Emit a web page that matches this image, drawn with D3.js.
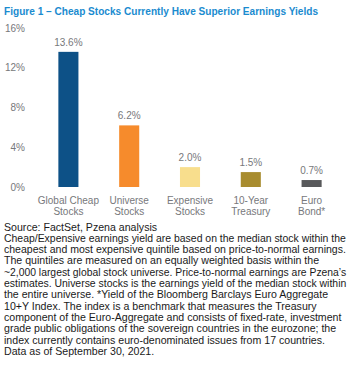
<!DOCTYPE html>
<html><head><meta charset="utf-8">
<script src="https://cdn.jsdelivr.net/npm/d3@7"></script>
<style>
html,body{margin:0;padding:0;background:#fff;}
svg{display:block;}
</style></head>
<body>
<script>
const categories = [["Global Cheap","Stocks"],["Universe","Stocks"],["Expensive","Stocks"],["10-Year","Treasury"],["Euro","Bond*"]];
const values = [13.6, 6.2, 2.0, 1.5, 0.7];
const colors = ["#0d5187","#f68b2c","#f8de8d","#a88c2f","#58595b"];
const yTicks = [0, 4, 8, 12, 16];
const title = "Figure 1 \u2013 Cheap Stocks Currently Have Superior Earnings Yields";
const source = "Source: FactSet, Pzena analysis";
const notes = [
"Cheap/Expensive earnings yield are based on the median stock within the",
"cheapest and most expensive quintile based on price-to-normal earnings.",
"The quintiles are measured on an equally weighted basis within the",
"~2,000 largest global stock universe. Price-to-normal earnings are Pzena\u2019s",
"estimates. Universe stocks is the earnings yield of the median stock within",
"the entire universe. *Yield of the Bloomberg Barclays Euro Aggregate",
"10+Y Index. The index is a benchmark that measures the Treasury",
"component of the Euro-Aggregate and consists of fixed-rate, investment",
"grade public obligations of the sovereign countries in the eurozone; the",
"index currently contains euro-denominated issues from 17 countries.",
"Data as of September 30, 2021."
];

const W = 352, H = 368;
const svg = d3.select("body").append("svg").attr("width", W).attr("height", H);
const font = "'Liberation Sans', Arial, Helvetica, sans-serif";

svg.append("text").attr("x", 4).attr("y", 15)
  .attr("font-family", font).attr("font-weight", "bold").attr("font-size", 11.2)
  .attr("fill", "#1a8bcf").attr("textLength", 314).attr("lengthAdjust", "spacingAndGlyphs")
  .text(title);

const y = d3.scaleLinear().domain([0, 16]).range([187, 28]);
const x = d3.scaleBand().domain(d3.range(values.length)).range([38, 342]).paddingInner(0.67).paddingOuter(0.335);

const axis = svg.append("g").attr("transform", "translate(25,0)")
  .call(d3.axisLeft(y).tickValues(yTicks).tickSize(0).tickPadding(0).tickFormat(d => d + "%"));
axis.select(".domain").remove();
axis.selectAll("text").attr("font-family", font).attr("font-size", 10).attr("fill", "#77787b");

svg.selectAll("rect.bar").data(values).join("rect").attr("class", "bar")
  .attr("x", (d, i) => x(i)).attr("width", x.bandwidth())
  .attr("y", d => y(d)).attr("height", d => y(0) - y(d))
  .attr("fill", (d, i) => colors[i]);

svg.selectAll("text.val").data(values).join("text").attr("class", "val")
  .attr("x", (d, i) => x(i) + x.bandwidth() / 2).attr("y", d => y(d) - 6)
  .attr("text-anchor", "middle").attr("font-family", font).attr("font-size", 10).attr("fill", "#77787b")
  .text(d => d.toFixed(1) + "%");

const cat = svg.selectAll("text.cat").data(categories).join("text").attr("class", "cat")
  .attr("text-anchor", "middle").attr("font-family", font).attr("font-size", 10).attr("fill", "#77787b");
cat.each(function(d, i) {
  const t = d3.select(this);
  d.forEach((line, j) => {
    t.append("tspan").attr("x", x(i) + x.bandwidth() / 2).attr("y", 203.5 + j * 11).text(line);
  });
});

svg.append("text").attr("x", 4).attr("y", 230.5).attr("font-family", font).attr("font-size", 10.6)
  .attr("fill", "#1a1a1a").text(source);
svg.selectAll("text.note").data(notes).join("text").attr("class", "note")
  .attr("x", 4).attr("y", (d, i) => 241.8 + i * 11.3)
  .attr("font-family", font).attr("font-size", 10.6).attr("fill", "#1a1a1a").text(d => d)
  .each(function() {
    const len = this.getComputedTextLength();
    if (len > 342) {
      d3.select(this).attr("font-size", (10.6 * 342 / len).toFixed(2));
    }
  });
</script>
</body></html>
